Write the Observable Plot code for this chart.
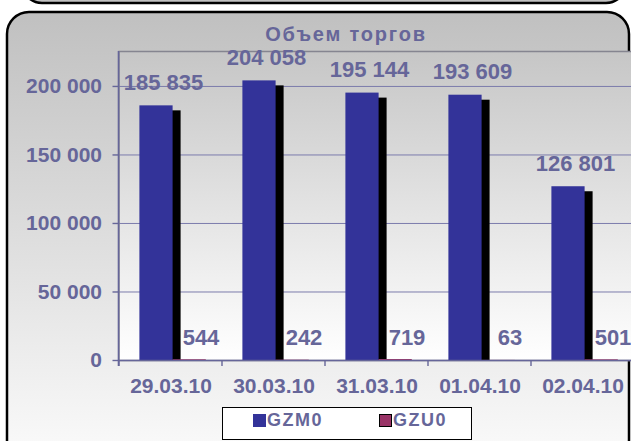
<!DOCTYPE html>
<html><head><meta charset="utf-8">
<script src="https://cdn.jsdelivr.net/npm/d3@7"></script>
<script src="https://cdn.jsdelivr.net/npm/@observablehq/plot@0.6"></script>
<style>
body{margin:0;background:#fff;}
#wrap{position:relative;width:631px;height:441px;overflow:hidden;font-family:"Liberation Sans",Arial,sans-serif;font-weight:bold;}
#bg{position:absolute;left:0;top:0;}
#chart{position:absolute;left:0;top:0;width:640px;height:441px;}
#chart svg{max-width:none !important;width:640px !important;height:441px !important;}
#legend{position:absolute;left:222px;top:407px;width:248px;height:31px;background:#fff;border:1.5px solid #000;box-sizing:content-box;}
.sw{position:absolute;top:6px;width:12.5px;height:12.5px;box-sizing:border-box;}
.lt{position:absolute;top:2px;font-size:18px;letter-spacing:1.5px;color:#666699;line-height:20px;}
</style></head><body>
<div id="wrap">
<svg id="bg" width="631" height="441">
<defs><linearGradient id="og" x1="0" y1="0" x2="0" y2="1"><stop offset="0" stop-color="#c0c0c0"/><stop offset="1" stop-color="#fbfbfb"/></linearGradient></defs>
<rect x="22" y="-40" width="604" height="43" rx="20" fill="#c0c0c0" stroke="#000" stroke-width="2.5"/>
<rect x="7" y="12" width="622" height="450" rx="22" fill="url(#og)" stroke="#000" stroke-width="2.5"/>
<text id="title" x="346" y="41" text-anchor="middle" fill="#666699" font-size="20" font-weight="bold" letter-spacing="1.8" font-family="Liberation Sans, Arial, sans-serif"></text>
</svg>
<div id="chart"></div>
<div id="legend"></div>
</div>
<script>
const title = "Объем торгов";
const dates = ["29.03.10","30.03.10","31.03.10","01.04.10","02.04.10"];
const series = ["GZM0","GZU0"];
const gzm0 = [185835,204058,195144,193609,126801];
const gzu0 = [544,242,719,63,501];
const yTicks = [0,50000,100000,150000,200000];

const colors = ["#333399","#993366"];
const textColor = "#666699";
const fmt = d => d3.format(",")(d).replace(/,/g, " ");
const data = dates.map((d,i)=>({date:d, gzm0:gzm0[i], gzu0:gzu0[i]}));

document.getElementById("title").textContent = title;

function plotBg(index, scales, values, dim) {
  const g = d3.create("svg:g");
  const grad = g.append("defs").append("linearGradient").attr("id","pg").attr("x1",0).attr("y1",0).attr("x2",0).attr("y2",1);
  grad.append("stop").attr("offset",0).attr("stop-color","#c6c6c6");
  grad.append("stop").attr("offset",1).attr("stop-color","#ffffff");
  g.append("rect").attr("x",dim.marginLeft).attr("y",dim.marginTop)
    .attr("width",dim.width-dim.marginLeft-dim.marginRight)
    .attr("height",dim.height-dim.marginTop-dim.marginBottom)
    .attr("fill","url(#pg)");
  return g.node();
}
function axisDecor(index, scales, values, dim) {
  const g = d3.create("svg:g");
  const y0 = scales.y(0);
  g.append("line").attr("x1",dim.marginLeft).attr("x2",dim.marginLeft)
    .attr("y1",dim.marginTop).attr("y2",y0+6).attr("stroke",textColor).attr("stroke-width",1.6);
  for (const d of dates) {
    const x = scales.x(d);
    g.append("line").attr("x1",x).attr("x2",x).attr("y1",y0).attr("y2",y0+6)
      .attr("stroke",textColor).attr("stroke-width",1.4);
  }
  return g.node();
}

const plot = Plot.plot({
  width: 640, height: 441,
  marginLeft: 118.5, marginRight: 6.5, marginTop: 51, marginBottom: 81,
  style: {background:"transparent", color:textColor, fontFamily:"Liberation Sans, Arial, sans-serif", fontWeight:"bold", fontSize:"21px", overflow:"visible", maxWidth:"none"},
  x: {domain: dates, padding: 0, label: null},
  y: {domain: [0, 225500], label: null},
  marks: [
    plotBg,
    Plot.gridY(yTicks, {stroke:"#7c7cac", strokeOpacity:1, strokeWidth:1}),
    Plot.frame({stroke:"#858590", strokeWidth:1.5}),
    Plot.barY(data, {x:"date", y:"gzm0", fill:"#000", insetLeft:20.4, insetRight:49.4, dx:8, dy:5, clip:true}),
    Plot.barY(data, {x:"date", y:"gzm0", fill:colors[0], insetLeft:20.4, insetRight:49.4}),
    Plot.barY(data, {x:"date", y:"gzu0", fill:colors[1], insetLeft:53.6, insetRight:16.2}),
    Plot.text(data, {x:"date", y:"gzm0", text: d=>fmt(d.gzm0), dx:-7.5, dy:-23, fontSize:22, fill:textColor}),
    Plot.text(data, {x:"date", y:"gzu0", text: d=>fmt(d.gzu0), dx:30, dy:-22, fontSize:22, fill:textColor}),
    Plot.axisY({ticks: yTicks, tickFormat: fmt, tickSize:6, tickPadding:11, label:null, fontSize:21, strokeWidth:1.4}),
    Plot.axisX({tickSize:0, tickPadding:18, label:null, fontSize:21}),
    Plot.ruleY([0], {stroke:textColor, strokeWidth:1.6}),
    axisDecor
  ]
});
document.getElementById("chart").appendChild(plot);

const leg = document.getElementById("legend");
const swX = [30, 156], txX = [44, 170];
series.forEach((s,i)=>{
  const sw = document.createElement("div");
  sw.className = "sw";
  sw.style.left = swX[i]+"px";
  sw.style.background = colors[i];
  if (i===1) sw.style.border = "1.5px solid #000";
  leg.appendChild(sw);
  const t = document.createElement("div");
  t.className = "lt";
  t.style.left = txX[i]+"px";
  t.textContent = s;
  leg.appendChild(t);
});
</script>
</body></html>
